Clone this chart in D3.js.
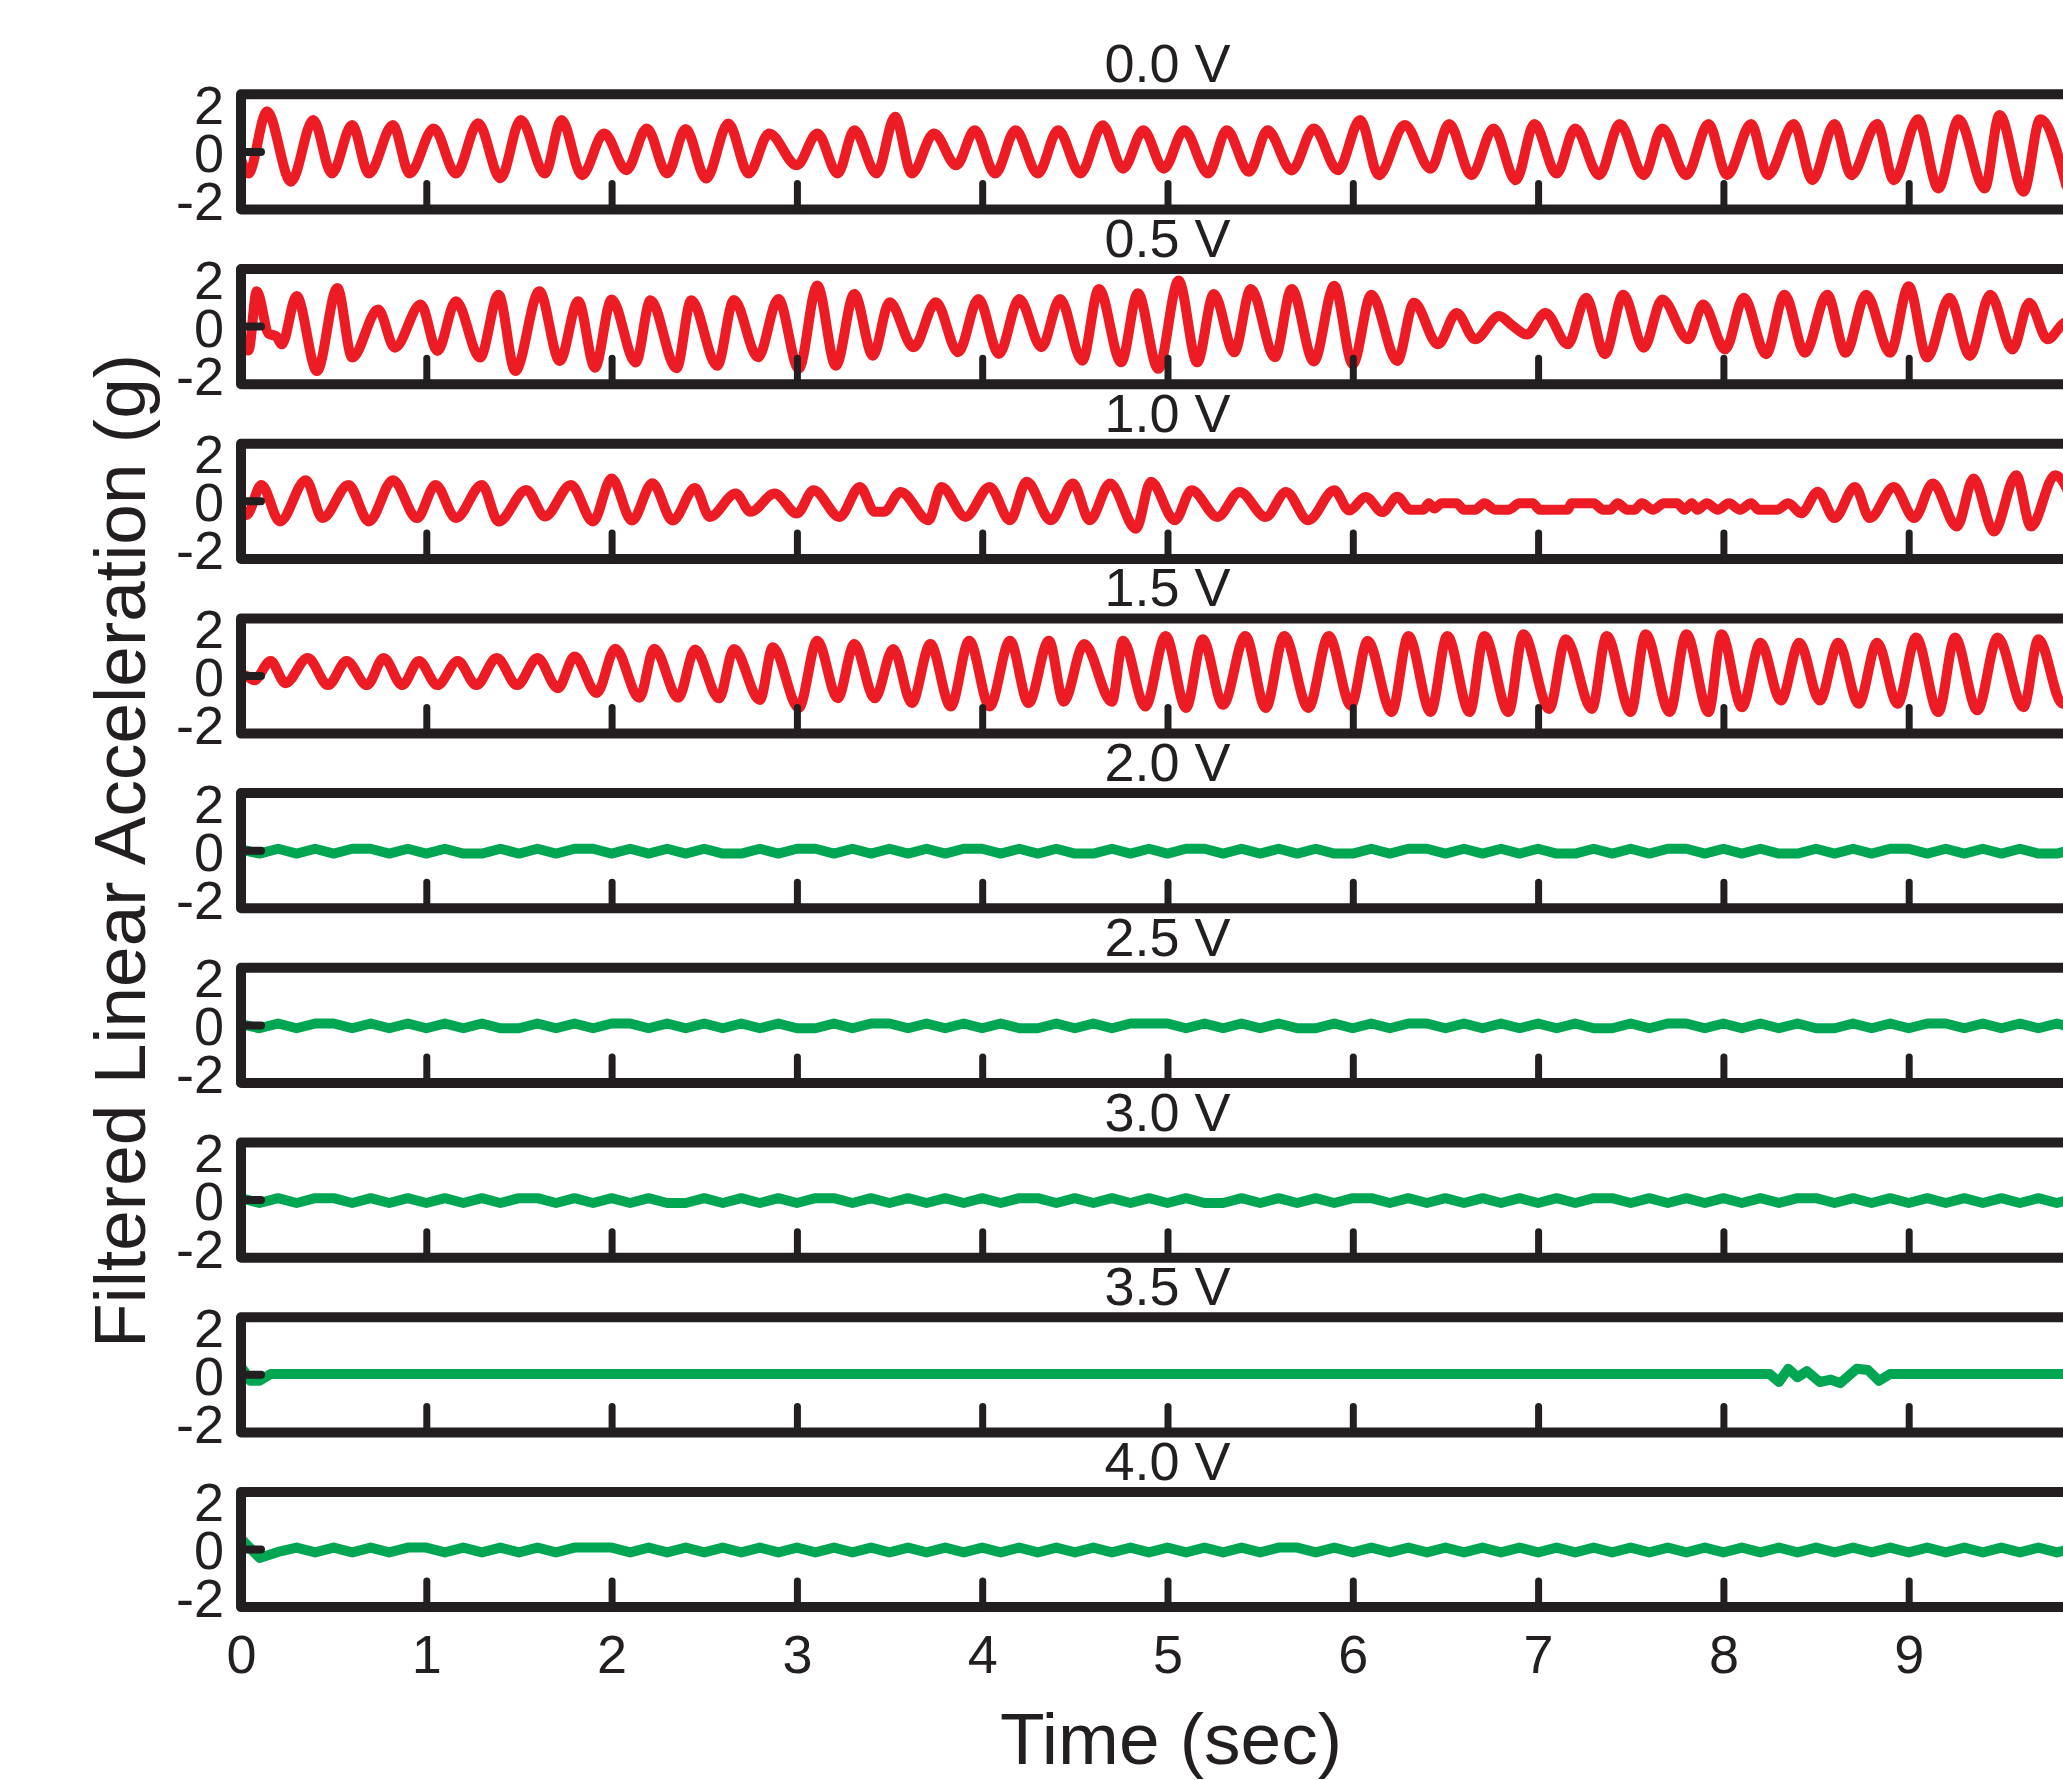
<!DOCTYPE html>
<html>
<head>
<meta charset="utf-8">
<script src="https://cdn.jsdelivr.net/npm/d3@7"></script>
<style>
  html, body { margin: 0; padding: 0; background: #ffffff; }
  svg { display: block; font-family: "Liberation Sans", Arial, Helvetica, sans-serif; }
</style>
</head>
<body>
<script>
// ---------------- DATA ----------------
const panelLabels = ["0.0 V", "0.5 V", "1.0 V", "1.5 V", "2.0 V", "2.5 V", "3.0 V", "3.5 V", "4.0 V"];
const timeTicks = [0, 1, 2, 3, 4, 5, 6, 7, 8, 9];
const accTicks = [-2, 0, 2];

// red series: [time (s), acceleration (g)] at the turning points
const s00 = [[0,-0.3],[0.04,-0.9],[0.14,1.68],[0.27,-1.24],[0.39,1.33],[0.49,-0.9],[0.60,1.12],[0.69,-0.9],[0.82,1.12],[0.91,-0.9],[1.04,0.98],[1.16,-0.9],[1.28,1.19],[1.40,-1.1],[1.51,1.33],[1.64,-0.9],[1.73,1.33],[1.84,-0.97],[1.96,0.77],[2.08,-0.76],[2.19,0.98],[2.30,-0.9],[2.40,0.95],[2.51,-1.11],[2.63,1.18],[2.74,-0.9],[2.85,0.77],[3.00,-0.56],[3.11,0.77],[3.22,-0.9],[3.31,0.9],[3.43,-0.9],[3.53,1.46],[3.62,-0.9],[3.74,0.77],[3.86,-0.56],[3.96,0.9],[4.07,-0.9],[4.18,0.9],[4.30,-0.9],[4.41,0.9],[4.53,-0.9],[4.65,1.11],[4.76,-0.7],[4.87,0.9],[4.98,-0.7],[5.09,0.9],[5.22,-0.9],[5.32,0.9],[5.44,-0.83],[5.54,0.9],[5.67,-0.77],[5.79,0.97],[5.92,-0.76],[6.04,1.33],[6.14,-0.97],[6.28,1.12],[6.42,-0.7],[6.52,1.16],[6.64,-0.97],[6.76,0.98],[6.88,-1.18],[6.98,1.16],[7.10,-0.9],[7.20,0.98],[7.33,-0.97],[7.44,1.16],[7.57,-0.97],[7.67,0.98],[7.80,-0.97],[7.92,1.16],[8.02,-0.97],[8.15,1.16],[8.24,-0.97],[8.38,1.16],[8.48,-1.18],[8.60,1.16],[8.69,-0.97],[8.83,1.16],[8.92,-1.18],[9.05,1.36],[9.16,-1.52],[9.27,1.36],[9.41,-1.52],[9.49,1.54],[9.62,-1.66],[9.71,1.36],[9.85,-1.4]];

const s05 = [[0,-0.5],[0.04,-1.0],[0.085,1.47],[0.15,-0.3],[0.19,-0.4],[0.22,-0.74],[0.30,1.27],[0.41,-1.85],[0.52,1.61],[0.60,-1.29],[0.74,0.71],[0.83,-0.88],[0.97,0.92],[1.06,-1.02],[1.16,1.06],[1.29,-1.29],[1.39,1.33],[1.48,-1.85],[1.61,1.47],[1.72,-1.43],[1.82,1.06],[1.91,-1.71],[2.00,1.13],[2.13,-1.5],[2.21,1.1],[2.35,-1.74],[2.43,1.1],[2.57,-1.63],[2.66,1.11],[2.79,-1.28],[2.90,1.15],[3.01,-1.76],[3.11,1.71],[3.21,-1.63],[3.31,1.36],[3.41,-1.21],[3.50,1.01],[3.63,-0.86],[3.75,1.01],[3.87,-1.07],[3.98,1.15],[4.09,-1.14],[4.20,1.15],[4.32,-0.86],[4.42,1.15],[4.54,-1.42],[4.63,1.57],[4.75,-1.49],[4.84,1.39],[4.95,-1.76],[5.06,1.92],[5.16,-1.49],[5.25,1.36],[5.36,-1.07],[5.45,1.57],[5.58,-1.28],[5.67,1.57],[5.79,-1.45],[5.90,1.7],[6.00,-1.57],[6.10,1.33],[6.24,-1.43],[6.33,0.99],[6.46,-0.74],[6.56,0.57],[6.66,-0.53],[6.79,0.44],[6.86,0.05],[6.94,-0.33],[7.04,0.57],[7.16,-0.74],[7.26,1.2],[7.36,-1.15],[7.46,1.33],[7.57,-0.88],[7.67,1.13],[7.81,-0.53],[7.89,0.92],[8.01,-0.95],[8.11,1.2],[8.23,-1.15],[8.33,1.33],[8.44,-1.09],[8.56,1.33],[8.66,-1.09],[8.77,1.33],[8.90,-1.09],[9.00,1.68],[9.10,-1.29],[9.22,1.2],[9.33,-1.22],[9.44,1.33],[9.56,-0.95],[9.65,0.99],[9.75,-0.53],[9.83,0.1],[9.90,0.4]];

const s10 = [[0,-0.3],[0.03,-0.57],[0.11,0.68],[0.21,-0.84],[0.35,0.88],[0.44,-0.7],[0.58,0.68],[0.69,-0.84],[0.82,0.88],[0.95,-0.7],[1.05,0.68],[1.16,-0.7],[1.30,0.68],[1.39,-0.84],[1.54,0.47],[1.64,-0.63],[1.78,0.68],[1.90,-0.84],[2.00,0.95],[2.11,-0.8],[2.22,0.75],[2.33,-0.8],[2.45,0.55],[2.53,-0.65],[2.67,0.32],[2.75,-0.44],[2.88,0.32],[3.00,-0.51],[3.09,0.46],[3.23,-0.65],[3.34,0.6],[3.42,-0.44],[3.47,-0.44],[3.56,0.39],[3.71,-0.79],[3.78,0.6],[3.91,-0.65],[4.04,0.6],[4.15,-0.79],[4.24,0.81],[4.37,-0.79],[4.49,0.74],[4.58,-0.79],[4.69,0.74],[4.83,-1.14],[4.91,0.81],[5.04,-0.79],[5.13,0.46],[5.27,-0.65],[5.39,0.39],[5.53,-0.65],[5.64,0.39],[5.76,-0.79],[5.90,0.46],[5.98,-0.38],[6.07,0.18],[6.16,-0.45],[6.24,0.19],[6.31,-0.35],[6.38,-0.35],[6.41,-0.08],[6.44,-0.3],[6.48,-0.08],[6.56,-0.08],[6.60,-0.35],[6.66,-0.35],[6.71,-0.08],[6.77,-0.35],[6.84,-0.35],[6.90,-0.08],[6.97,-0.08],[7.01,-0.35],[7.16,-0.35],[7.18,-0.08],[7.30,-0.08],[7.35,-0.35],[7.39,-0.35],[7.43,-0.08],[7.48,-0.35],[7.52,-0.35],[7.56,-0.08],[7.62,-0.35],[7.68,-0.08],[7.75,-0.08],[7.79,-0.35],[7.83,-0.08],[7.86,-0.35],[7.91,-0.08],[7.97,-0.35],[8.03,-0.08],[8.09,-0.35],[8.15,-0.08],[8.19,-0.35],[8.29,-0.35],[8.35,-0.08],[8.42,-0.5],[8.51,0.4],[8.60,-0.7],[8.71,0.6],[8.79,-0.7],[8.92,0.6],[9.03,-0.7],[9.13,0.74],[9.26,-1.05],[9.35,0.95],[9.46,-1.26],[9.58,1.09],[9.66,-1.05],[9.79,1.09],[9.90,-0.3]];

const s15 = [[0,0.1],[0.03,0],[0.07,-0.18],[0.16,0.62],[0.24,-0.3],[0.36,0.75],[0.47,-0.38],[0.57,0.62],[0.68,-0.38],[0.77,0.75],[0.87,-0.38],[0.96,0.62],[1.06,-0.38],[1.17,0.62],[1.27,-0.38],[1.38,0.75],[1.49,-0.38],[1.60,0.75],[1.71,-0.51],[1.80,0.81],[1.92,-0.71],[2.02,1.14],[2.15,-0.91],[2.23,1.14],[2.36,-0.91],[2.45,1.1],[2.58,-0.93],[2.66,1.13],[2.80,-1.0],[2.87,1.2],[3.01,-1.33],[3.11,1.47],[3.22,-0.93],[3.31,1.33],[3.42,-0.93],[3.52,1.13],[3.62,-1.13],[3.72,1.33],[3.83,-1.27],[3.93,1.47],[4.04,-1.27],[4.15,1.47],[4.25,-1.13],[4.36,1.47],[4.44,-1.07],[4.55,1.33],[4.70,-1.07],[4.76,1.47],[4.88,-1.27],[4.99,1.67],[5.10,-1.33],[5.19,1.53],[5.30,-1.2],[5.42,1.67],[5.53,-1.33],[5.63,1.67],[5.76,-1.33],[5.87,1.67],[5.99,-1.23],[6.08,1.46],[6.21,-1.5],[6.30,1.67],[6.42,-1.5],[6.51,1.67],[6.63,-1.5],[6.71,1.67],[6.84,-1.5],[6.92,1.74],[7.06,-1.37],[7.15,1.53],[7.29,-1.37],[7.37,1.67],[7.50,-1.5],[7.58,1.74],[7.71,-1.5],[7.80,1.74],[7.92,-1.5],[7.99,1.74],[8.10,-1.3],[8.20,1.39],[8.31,-1.02],[8.41,1.39],[8.52,-1.02],[8.62,1.39],[8.73,-1.16],[8.83,1.39],[8.94,-1.16],[9.04,1.6],[9.16,-1.5],[9.25,1.6],[9.37,-1.43],[9.48,1.6],[9.62,-1.3],[9.70,1.53],[9.83,-1.16],[9.90,-0.5]];

// green series: values read every 0.1 s
const greenStep = 0.1;
const g20 = [0.05,-0.12,0.08,-0.12,0.08,-0.12,0.08,0.08,-0.12,0.08,-0.12,0.08,-0.12,-0.12,0.08,-0.12,0.08,-0.12,0.08,0.08,-0.12,0.08,-0.12,0.08,-0.12,0.08,-0.12,-0.12,0.08,-0.12,0.08,0.08,-0.12,0.08,-0.12,0.08,-0.12,0.08,-0.12,0.08,0.08,-0.12,0.08,-0.12,0.08,-0.12,-0.12,0.08,-0.12,0.08,-0.12,0.08,0.08,-0.12,0.08,-0.12,0.08,-0.12,0.08,-0.12,-0.12,0.08,-0.12,0.08,0.08,-0.12,0.08,-0.12,0.08,-0.12,0.08,-0.12,-0.12,0.08,-0.12,0.08,-0.12,0.08,0.08,-0.12,0.08,-0.12,0.08,-0.12,-0.12,0.08,-0.12,0.08,-0.12,0.08,0.08,-0.12,0.08,-0.12,0.08,-0.12,0.08,-0.12,-0.12,0.08];
const g25 = [0.05,-0.12,0.08,-0.12,0.08,0.08,-0.12,0.08,-0.12,0.08,-0.12,0.08,-0.12,0.08,-0.12,-0.12,0.08,-0.12,0.08,-0.12,0.08,0.08,-0.12,0.08,-0.12,0.08,-0.12,0.08,-0.12,0.08,-0.12,-0.12,0.08,-0.12,0.08,0.08,-0.12,0.08,-0.12,0.08,-0.12,0.08,-0.12,-0.12,0.08,-0.12,0.08,-0.12,0.08,0.08,0.08,-0.12,0.08,-0.12,0.08,-0.12,0.08,-0.12,-0.12,0.08,-0.12,0.08,-0.12,0.08,0.08,-0.12,0.08,-0.12,0.08,-0.12,0.08,-0.12,0.08,-0.12,-0.12,0.08,-0.12,0.08,0.08,-0.12,0.08,-0.12,0.08,-0.12,0.08,-0.12,-0.12,0.08,-0.12,0.08,-0.12,0.08,0.08,-0.12,0.08,-0.12,0.08,-0.12,0.08,-0.12];
const g30 = [0.08,-0.12,0.08,-0.12,0.08,0.08,-0.12,0.08,-0.12,0.08,-0.12,0.08,-0.12,0.08,-0.12,0.08,0.08,-0.12,0.08,-0.12,0.08,-0.12,0.08,-0.12,-0.12,0.08,-0.12,0.08,-0.12,0.08,-0.12,0.08,0.08,-0.12,0.08,-0.12,0.08,-0.12,0.08,-0.12,0.08,-0.12,0.08,0.08,-0.12,0.08,-0.12,0.08,-0.12,0.08,-0.12,0.08,-0.12,-0.12,0.08,-0.12,0.08,-0.12,0.08,-0.12,0.08,0.08,-0.12,0.08,-0.12,0.08,-0.12,0.08,-0.12,0.08,-0.12,0.08,-0.12,0.08,0.08,-0.12,0.08,-0.12,0.08,-0.12,0.08,-0.12,0.08,-0.12,0.08,0.08,-0.12,0.08,-0.12,0.08,-0.12,0.08,-0.12,0.08,-0.12,0.08,-0.12,0.08,-0.12,0.08];
const s35 = [[0,0.35],[0.05,-0.25],[0.1,-0.25],[0.16,0.03],[8.25,0.03],[8.30,-0.3],[8.35,0.25],[8.40,-0.1],[8.45,0.15],[8.52,-0.3],[8.58,-0.2],[8.63,-0.35],[8.72,0.25],[8.78,0.2],[8.84,-0.25],[8.90,0.03],[9.90,0.03]];
const g40 = [0.45,-0.35,-0.1,0.08,-0.12,0.08,-0.12,0.08,-0.12,0.08,0.08,-0.12,0.08,-0.12,0.08,-0.12,0.08,-0.12,0.08,0.08,0.08,-0.12,0.08,-0.12,0.08,-0.12,0.08,-0.12,0.08,-0.12,0.08,-0.12,0.08,-0.12,0.08,-0.12,0.08,-0.12,0.08,-0.12,0.08,-0.12,0.08,-0.12,0.08,-0.12,0.08,-0.12,0.08,-0.12,0.08,-0.12,0.08,-0.12,0.08,-0.12,0.08,0.08,-0.12,0.08,-0.12,0.08,-0.12,0.08,-0.12,0.08,-0.12,0.08,-0.12,0.08,-0.12,0.08,-0.12,0.08,-0.12,0.08,-0.12,0.08,-0.12,0.08,-0.12,0.08,-0.12,0.08,-0.12,0.08,-0.12,0.08,-0.12,0.08,-0.12,0.08,-0.12,0.08,-0.12,0.08,-0.12,0.08,-0.12,0.08];

// ---------------- CHART ----------------
const W = 2063, H = 1780;
const INK = "#231f20", RED = "#ed1c24", GREEN = "#00a651";
const FONT = 54;

const toPairs = vals => vals.map((v, i) => [i * greenStep, v]);
const series = [s00, s05, s10, s15, toPairs(g20), toPairs(g25), toPairs(g30), s35, toPairs(g40)];

const svg = d3.select("body").append("svg")
  .attr("width", W).attr("height", H)
  .attr("viewBox", `0 0 ${W} ${H}`);

const x = d3.scaleLinear().domain([0, 10]).range([241, 2094]);
const y = d3.scaleLinear().domain([-2.4, 2.4]).range([115.2, 0]);
const redLine = d3.line().x(d => x(d[0])).y(d => y(d[1])).curve(d3.curveMonotoneX);
const greenLine = d3.line().x(d => x(d[0])).y(d => y(d[1]));
const tickText = d => String(d);

const panelTop = i => 94.3 + i * 174.7;

series.forEach((data, i) => {
  const g = svg.append("g").attr("transform", `translate(0,${panelTop(i)})`);

  g.append("text")
    .attr("x", x(5)).attr("y", -12)
    .attr("text-anchor", "middle")
    .attr("font-size", FONT).attr("fill", INK)
    .text(panelLabels[i]);

  g.append("path")
    .datum(data)
    .attr("d", i < 4 ? redLine : greenLine)
    .attr("fill", "none")
    .attr("stroke", i < 4 ? RED : GREEN)
    .attr("stroke-width", 10)
    .attr("stroke-linejoin", "round")
    .attr("stroke-linecap", "round");

  // frame
  g.append("rect")
    .attr("x", x(0)).attr("y", y(2.4))
    .attr("width", x(10) - x(0)).attr("height", y(-2.4) - y(2.4))
    .attr("fill", "none").attr("stroke", INK)
    .attr("stroke-width", 10).attr("stroke-linejoin", "round");

  // inward ticks on the bottom edge
  const bt = g.append("g")
    .attr("transform", `translate(0,${y(-2.4)})`)
    .call(d3.axisBottom(x).tickValues(timeTicks.filter(t => t > 0)).tickSize(-26).tickFormat(""));
  bt.select(".domain").remove();
  bt.selectAll(".tick line").attr("stroke", INK).attr("stroke-width", 7).attr("stroke-linecap", "round");

  // left labels
  const la = g.append("g")
    .attr("transform", `translate(${x(0)},0)`)
    .call(d3.axisLeft(y).tickValues(accTicks).tickSize(0).tickPadding(17).tickFormat(tickText));
  la.select(".domain").remove();
  la.selectAll(".tick text")
    .attr("font-size", FONT).attr("fill", INK)
    .attr("font-family", "'Liberation Sans', Arial, sans-serif")
    .attr("dy", "0.36em");

  // zero tick
  g.append("line")
    .attr("x1", x(0)).attr("x2", x(0) + 20)
    .attr("y1", y(0)).attr("y2", y(0))
    .attr("stroke", INK).attr("stroke-width", 8).attr("stroke-linecap", "round");

  if (i === series.length - 1) {
    const xa = g.append("g")
      .attr("transform", `translate(0,${y(-2.4)})`)
      .call(d3.axisBottom(x).tickValues(timeTicks).tickSize(0).tickFormat(tickText));
    xa.select(".domain").remove();
    xa.selectAll(".tick text")
      .attr("font-size", FONT).attr("fill", INK)
      .attr("font-family", "'Liberation Sans', Arial, sans-serif")
      .attr("y", 66).attr("dy", 0);
  }
});

svg.append("text")
  .attr("x", 1171).attr("y", 1764)
  .attr("text-anchor", "middle")
  .attr("font-size", 73).attr("fill", INK)
  .text("Time (sec)");

svg.append("text")
  .attr("transform", "translate(145,851) rotate(-90)")
  .attr("text-anchor", "middle")
  .attr("font-size", 73).attr("fill", INK)
  .text("Filtered Linear Acceleration (g)");
</script>
</body>
</html>
